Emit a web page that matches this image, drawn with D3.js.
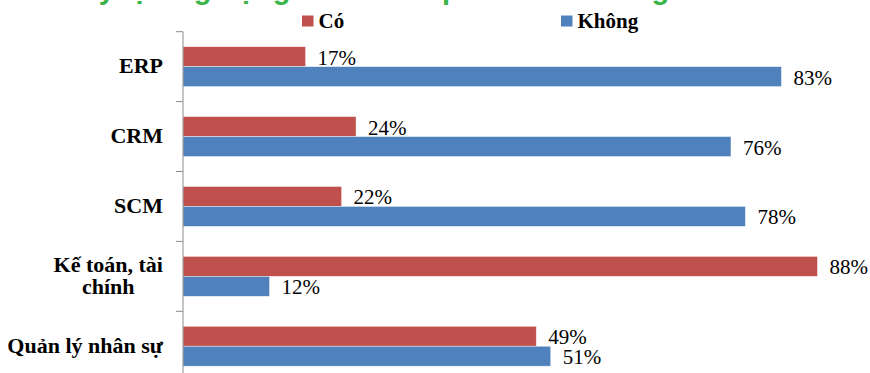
<!DOCTYPE html>
<html>
<head>
<meta charset="utf-8">
<script src="https://cdn.jsdelivr.net/npm/d3@7/dist/d3.min.js"></script>
<style>
  html, body { margin: 0; padding: 0; background: #fff; }
  svg { display: block; }
</style>
</head>
<body>
<script>
// Survey: share of firms using each kind of management software
const title = "Tỷ lệ ứng dụng các nhóm phần mềm trong DN";
const categories = ["ERP", "CRM", "SCM", "Kế toán, tài chính", "Quản lý nhân sự"];
const seriesNames = ["Có", "Không"];
const coValues = [17, 24, 22, 88, 49];
const khongValues = [83, 76, 78, 12, 51];
const seriesColors = ["#C0504D", "#4F81BD"];

const SERIF = "Liberation Serif";
const SANS = "Liberation Sans";

const W = 870, H = 373;
const svg = d3.select("body").append("svg").attr("width", W).attr("height", H);

// title (sits mostly above the visible area)
svg.append("text")
  .attr("x", 81).attr("y", -1)
  .style("font-family", SANS)
  .style("font-weight", "bold")
  .style("font-size", "29px")
  .attr("fill", "#3BB54A")
  .text(title);

const bandStep = 69.9;
const y = d3.scaleBand().domain(categories)
  .range([31.7, 31.7 + bandStep * categories.length])
  .paddingInner(0).paddingOuter(0);
const ySeries = d3.scaleBand().domain(seriesNames).range([15, bandStep - 15]);
const x = d3.scaleLinear().domain([0, 100]).range([183, 904]);

const rows = categories.map((c, i) => ({ cat: c, vals: [coValues[i], khongValues[i]] }));

// bars with value labels
const g = svg.append("g");
rows.forEach(r => {
  r.vals.forEach((v, si) => {
    const yy = y(r.cat) + ySeries(seriesNames[si]);
    g.append("rect")
      .attr("x", x(0)).attr("y", yy)
      .attr("width", x(v) - x(0)).attr("height", ySeries.bandwidth())
      .attr("fill", seriesColors[si])
      .attr("stroke", "#ffffff").attr("stroke-opacity", 0.6).attr("stroke-width", 0.7);
    g.append("text")
      .attr("x", x(v) + 12)
      .attr("y", yy + ySeries.bandwidth() / 2 + 8)
      .style("font-family", SERIF)
      .style("font-size", "21px").attr("fill", "#000")
      .text(v + "%");
  });
});

// category axis
const axis = d3.axisLeft(y).tickSize(0).tickFormat("");
const axG = svg.append("g").attr("transform", `translate(${x(0)},0)`).call(axis);
axG.select(".domain").remove();
axG.append("line")
  .attr("x1", 0).attr("x2", 0)
  .attr("y1", y.range()[0]).attr("y2", y.range()[1])
  .attr("stroke", "#8C8C8C").attr("stroke-width", 1);
const boundaries = categories.map(c => y(c)).concat([y.range()[1]]);
axG.selectAll("line.tk").data(boundaries).join("line")
  .attr("class", "tk")
  .attr("x1", -7).attr("x2", 0)
  .attr("y1", d => d).attr("y2", d => d)
  .attr("stroke", "#8C8C8C").attr("stroke-width", 1);

// category labels, wrapped and centred line by line, block right-aligned
const labelRight = 163, maxW = 160, lineH = 21.6;
categories.forEach(c => {
  const t = svg.append("text")
    .style("font-family", SERIF)
    .style("font-weight", "bold").style("font-size", "22px")
    .attr("fill", "#000").attr("text-anchor", "middle");
  const words = c.split(" ");
  const lines = [];
  let cur = [];
  const probe = t.append("tspan");
  words.forEach(w => {
    const test = cur.concat([w]).join(" ");
    probe.text(test);
    if (probe.node().getComputedTextLength() > maxW && cur.length) {
      lines.push(cur.join(" "));
      cur = [w];
    } else cur.push(w);
  });
  lines.push(cur.join(" "));
  probe.remove();
  const widths = lines.map(l => { const s = t.append("tspan").text(l); const w = s.node().getComputedTextLength(); s.remove(); return w; });
  const blockW = d3.max(widths);
  const cx = labelRight - blockW / 2;
  const center = y(c) + bandStep / 2;
  const firstBase = center + 6.5 - (lines.length - 1) * lineH / 2;
  lines.forEach((l, i) => {
    t.append("tspan").attr("x", cx).attr("y", firstBase + i * lineH).text(l);
  });
});

// legend
const legendX = [302, 561];
seriesNames.forEach((s, i) => {
  svg.append("rect").attr("x", legendX[i]).attr("y", 15.5).attr("width", 11.5).attr("height", 11)
    .attr("fill", seriesColors[i]);
  svg.append("text").attr("x", legendX[i] + 16.5).attr("y", 28.3)
    .style("font-family", SERIF)
    .style("font-weight", "bold").style("font-size", "21px")
    .attr("fill", "#000").text(s);
});
</script>
</body>
</html>
